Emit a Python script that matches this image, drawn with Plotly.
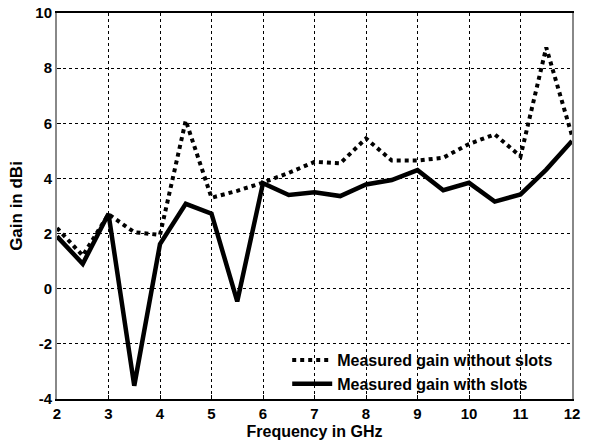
import plotly.graph_objects as go

# Frequency points (GHz)
freq = [2, 2.5, 3, 3.5, 4, 4.5, 5, 5.5, 6, 6.5, 7, 7.5, 8, 8.5, 9, 9.5, 10, 10.5, 11, 11.5, 12]

# Measured gain (dBi)
gain_without_slots = [2.2, 1.2, 2.7, 2.05, 1.95, 6.1, 3.3, 3.55, 3.85, 4.2, 4.6, 4.55, 5.45,
                      4.65, 4.65, 4.75, 5.25, 5.6, 4.8, 8.75, 5.55]
gain_with_slots = [1.9, 0.9, 2.72, -3.52, 1.62, 3.08, 2.72, -0.46, 3.83, 3.4, 3.5, 3.36, 3.78,
                   3.94, 4.3, 3.57, 3.84, 3.16, 3.42, 4.32, 5.36]

x_ticks = list(range(2, 13))
y_ticks = list(range(-4, 11, 2))

FONT = "Liberation Sans, Arial, sans-serif"

fig = go.Figure()
fig.add_trace(go.Scatter(
    x=freq, y=gain_without_slots, mode="lines",
    name="<b>Measured gain without slots</b>",
    line=dict(color="black", width=4, dash="dot"),
))
fig.add_trace(go.Scatter(
    x=freq, y=gain_with_slots, mode="lines",
    name="<b>Measured gain with slots</b>",
    line=dict(color="black", width=4.5),
))

fig.update_layout(
    width=590, height=442,
    margin=dict(l=57, r=18, t=13, b=43, autoexpand=False),
    paper_bgcolor="white", plot_bgcolor="white",
    font=dict(family=FONT, size=15, color="black"),
    showlegend=True,
    legend=dict(
        x=0.447, y=0.145, xanchor="left", yanchor="top",
        bgcolor="rgba(0,0,0,0)", borderwidth=0,
        font=dict(family=FONT, size=16, color="black"),
        tracegroupgap=0, itemwidth=40,
    ),
    xaxis=dict(
        range=[2, 12], tickvals=x_ticks, automargin=False,
        ticktext=[f"<b>{v}</b>" for v in x_ticks],
        tickfont=dict(family=FONT, size=15),
        showline=True, linecolor="black", linewidth=2, mirror=True,
        ticks="inside", ticklen=4, tickcolor="black",
        showgrid=True, gridcolor="black", gridwidth=1, griddash="3px,3px",
        zeroline=False,
        title=dict(text="<b>Frequency in GHz</b>", standoff=5,
                   font=dict(family=FONT, size=16)),
    ),
    yaxis=dict(
        range=[-4, 10], tickvals=y_ticks, automargin=False,
        ticktext=[f"<b>{v}</b>" for v in y_ticks],
        tickfont=dict(family=FONT, size=15),
        showline=True, linecolor="#888888", linewidth=2, mirror=True,
        ticks="inside", ticklen=4, tickcolor="black",
        showgrid=True, gridcolor="black", gridwidth=1, griddash="3px,3px",
        zeroline=False,
        title=dict(text="<b>Gain in dBi</b>", standoff=8,
                   font=dict(family=FONT, size=17)),
    ),
)

fig.write_html("out.html")
